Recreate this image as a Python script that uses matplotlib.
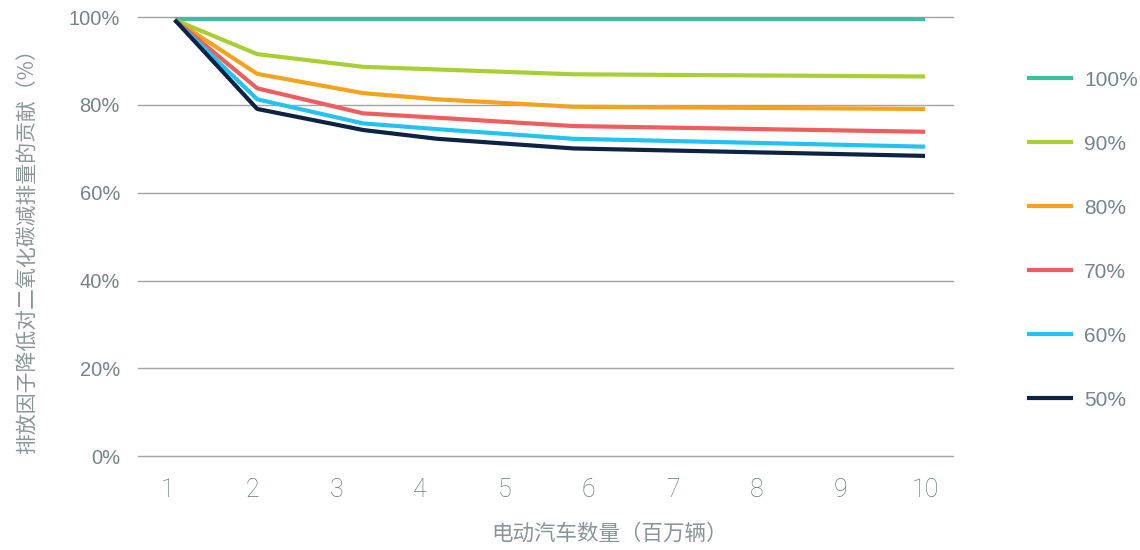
import matplotlib
matplotlib.use("Agg")
import matplotlib.pyplot as plt
from matplotlib.ticker import FixedLocator, FuncFormatter

# Emission-factor reduction scenarios vs. number of EVs (millions)
ev_millions = [1.08, 2.06, 3.32, 4.2, 5.82, 10.0]
series_labels = ["100%", "90%", "80%", "70%", "60%", "50%"]
share_100 = [99.5, 99.5, 99.5, 99.5, 99.5, 99.5]
share_90 = [99.4, 91.6, 88.7, 88.1, 87.0, 86.5]
share_80 = [99.4, 87.1, 82.7, 81.3, 79.6, 79.1]
share_70 = [99.4, 83.8, 78.1, 77.1, 75.2, 73.9]
share_60 = [99.4, 81.3, 75.8, 74.5, 72.3, 70.5]
share_50 = [99.4, 79.1, 74.3, 72.3, 70.1, 68.4]
x_ticks = [1, 2, 3, 4, 5, 6, 7, 8, 9, 10]
y_ticks = [0, 20, 40, 60, 80, 100]

series = [share_100, share_90, share_80, share_70, share_60, share_50]
colors = ["#3cbf9f", "#a9cf36", "#f6a21d", "#f05d5e", "#22c3f2", "#0e2344"]

text_gray = "#768484"
label_gray = "#8a9595"
grid_gray = "#a3a3a3"

cjk = ["Noto Sans CJK SC", "DejaVu Sans"]
sans = ["Liberation Sans", "DejaVu Sans"]
thin = ["Roboto", "DejaVu Sans"]

fig = plt.figure(figsize=(11.4, 5.5), dpi=100)
ax = fig.add_axes([138 / 1140, 1 - 456 / 550, (953 - 138) / 1140, (456 - 17.25) / 550])

handles = []
for vals, col, lab in zip(series, colors, series_labels):
    (ln,) = ax.plot(ev_millions, vals, color=col, lw=3.0, label=lab,
                    solid_capstyle="butt", solid_joinstyle="round")
    handles.append(ln)

ax.set_xlim(0.643, 10.333)
ax.set_ylim(0, 100)
ax.xaxis.set_major_locator(FixedLocator(x_ticks))
ax.yaxis.set_major_locator(FixedLocator(y_ticks))
ax.yaxis.set_major_formatter(FuncFormatter(lambda v, p: f"{int(v)}%"))

ax.grid(axis="y", color=grid_gray, lw=1.0)
ax.grid(axis="x", visible=False)
ax.set_axisbelow(True)
for gl in ax.get_ygridlines():
    gl.set_clip_on(False)
for s in ax.spines.values():
    s.set_visible(False)

ax.tick_params(axis="both", length=0)
ax.tick_params(axis="y", pad=13)
ax.tick_params(axis="x", pad=16)
for t in ax.get_yticklabels():
    t.set_fontfamily(sans)
    t.set_fontsize(14.5)
    t.set_color(text_gray)
for t in ax.get_xticklabels():
    t.set_fontfamily(thin)
    t.set_fontweight("light")
    t.set_fontsize(18)
    t.set_color("#6a7878")

fig.text(28 / 1140, 1 - 246 / 550, "排放因子降低对二氧化碳减排量的贡献（%）",
         rotation=90, ha="center", va="center", fontsize=15,
         family=cjk, fontweight="light", color=label_gray)
fig.text(610 / 1140, 1 - 534 / 550, "电动汽车数量（百万辆）",
         ha="center", va="center", fontsize=15.5,
         family=cjk, fontweight="light", color=label_gray)

leg = fig.legend(handles=handles, loc="upper left",
                 bbox_to_anchor=(1008 / 1140, 1 - 52 / 550),
                 frameon=False, handlelength=2.2,
                 handletextpad=0.55, labelspacing=2.16,
                 prop={"family": sans, "size": 15})
for t in leg.get_texts():
    t.set_color(text_gray)

fig.savefig("out.png", dpi=100, facecolor="white")
